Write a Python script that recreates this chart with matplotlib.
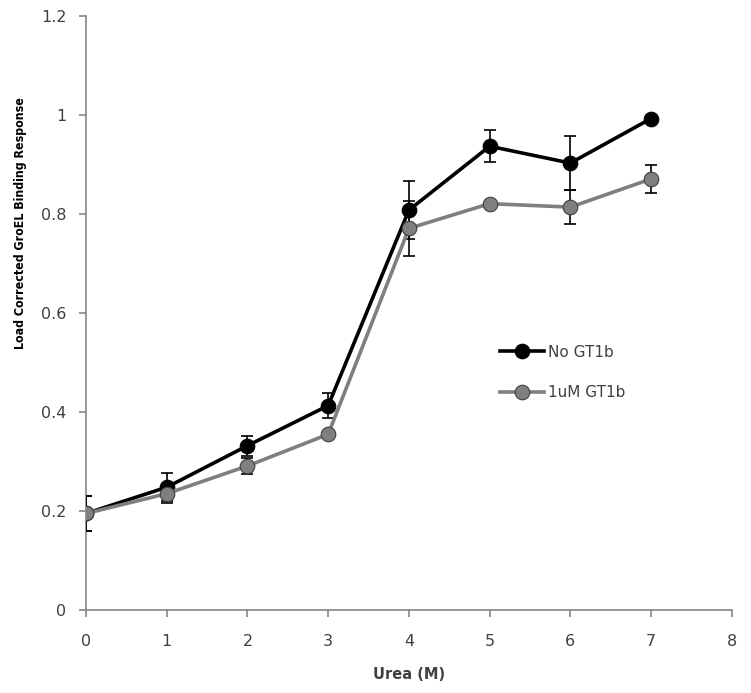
import numpy as np
import matplotlib.pyplot as plt

# ── DATA ──────────────────────────────────────────────────────────
UREA = [0, 1, 2, 3, 4, 5, 6, 7]

NO_GT1B     = [0.195, 0.248, 0.332, 0.413, 0.808, 0.937, 0.903, 0.993]
NO_GT1B_ERR = [0.035, 0.028, 0.020, 0.026, 0.058, 0.032, 0.055, 0.005]

GT1B        = [0.195, 0.235, 0.291, 0.355, 0.771, 0.821, 0.814, 0.871]
GT1B_ERR    = [0.035, 0.018, 0.017, 0.006, 0.056, 0.005, 0.034, 0.028]

SERIES = [
    ("No GT1b",  NO_GT1B, NO_GT1B_ERR, "black",   "black"),
    ("1uM GT1b", GT1B,    GT1B_ERR,    "#7f7f7f", "#3f3f3f"),
]

AXIS_GREY = "#868686"
TEXT_GREY = "#404040"

# ── PLOT ──────────────────────────────────────────────────────────
plt.rcParams["font.family"] = ["DejaVu Sans"]

fig = plt.figure(figsize=(7.51, 6.93), dpi=100)
ax = fig.add_axes([0.1145, 0.1198, 0.860, 0.857])

for i, (label, vals, err, color, edge) in enumerate(SERIES):
    ax.errorbar(UREA, vals, yerr=err, fmt="none", ecolor="black",
                elinewidth=1.2, capsize=4.5, capthick=1.2, zorder=2 + 2 * i)
    ax.plot(UREA, vals, color=color, linewidth=2.6, marker="o",
            markersize=10.5, markerfacecolor=color, markeredgecolor=edge,
            markeredgewidth=0.8, label=label, zorder=3 + 2 * i)

ax.set_xlim(0, 8)
ax.set_ylim(0, 1.2)
ax.set_xticks(range(0, 9))
ax.set_yticks(np.arange(0, 1.21, 0.2))
ax.set_yticklabels(["0", "0.2", "0.4", "0.6", "0.8", "1", "1.2"])

for side in ("top", "right"):
    ax.spines[side].set_visible(False)
for side in ("left", "bottom"):
    ax.spines[side].set_color(AXIS_GREY)
    ax.spines[side].set_linewidth(1.2)
ax.tick_params(direction="out", length=5, width=1.2, color=AXIS_GREY,
               labelcolor=TEXT_GREY, labelsize=11.5)
ax.tick_params(axis="x", pad=12)
ax.tick_params(axis="y", pad=9)

ax.set_xlabel("Urea (M)", fontsize=10.5, fontweight="bold",
              color=TEXT_GREY, labelpad=13)
ax.set_ylabel("Load Corrected GroEL Binding Response", fontsize=8.9,
              fontweight="bold", fontstretch="condensed")
ax.yaxis.set_label_coords(-0.092, 0.651)

ax.legend(loc="center left", bbox_to_anchor=(0.619, 0.400), frameon=False,
          fontsize=11, handlelength=2.9, handletextpad=0.25,
          labelspacing=1.65, labelcolor=TEXT_GREY)

fig.savefig("out.png", dpi=100)
